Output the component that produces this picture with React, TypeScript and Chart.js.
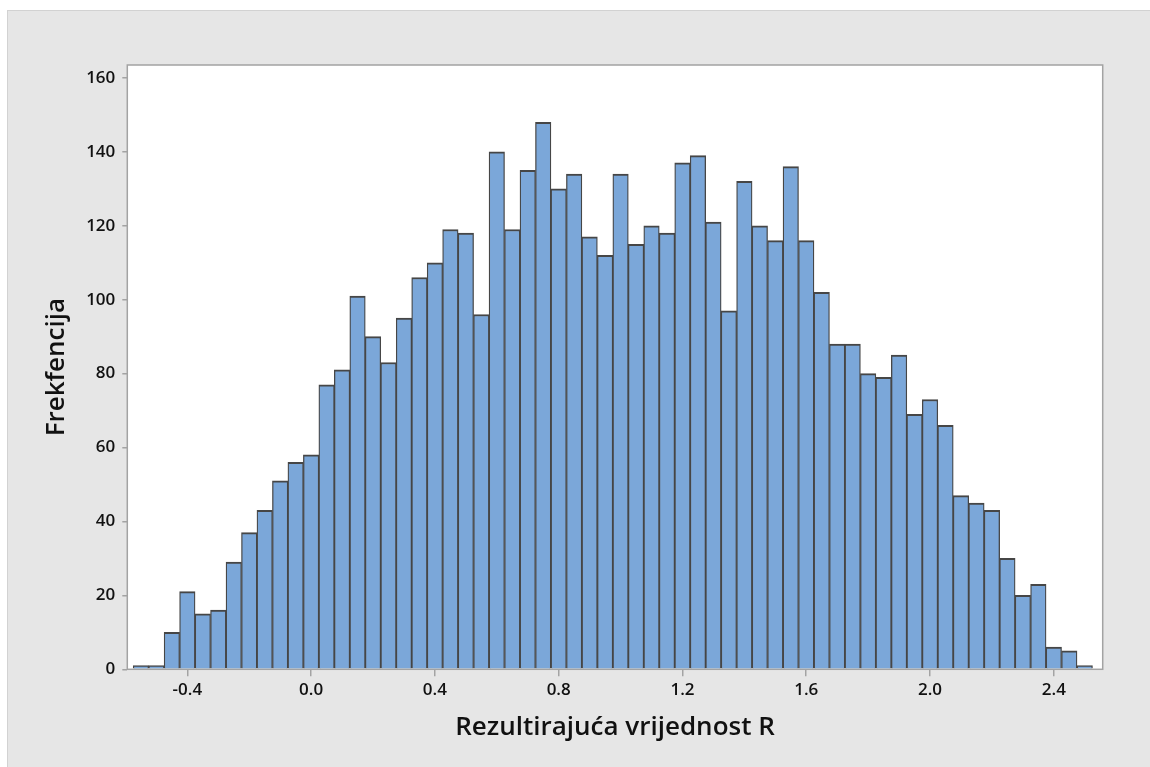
import React, { useEffect, useRef } from "react";
import { Chart, registerables } from "chart.js";

Chart.register(...registerables);

const BIN_CENTERS = [
  -0.55, -0.5, -0.45, -0.4, -0.35, -0.3, -0.25, -0.2, -0.15, -0.1,
  -0.05, 0.0, 0.05, 0.1, 0.15, 0.2, 0.25, 0.3, 0.35, 0.4,
  0.45, 0.5, 0.55, 0.6, 0.65, 0.7, 0.75, 0.8, 0.85, 0.9,
  0.95, 1.0, 1.05, 1.1, 1.15, 1.2, 1.25, 1.3, 1.35, 1.4,
  1.45, 1.5, 1.55, 1.6, 1.65, 1.7, 1.75, 1.8, 1.85, 1.9,
  1.95, 2.0, 2.05, 2.1, 2.15, 2.2, 2.25, 2.3, 2.35, 2.4,
  2.45, 2.5,
];

const FREQUENCIES = [
  1, 1, 10, 21, 15, 16, 29, 37, 43, 51,
  56, 58, 77, 81, 101, 90, 83, 95, 106, 110,
  119, 118, 96, 140, 119, 135, 148, 130, 134, 117,
  112, 134, 115, 120, 118, 137, 139, 121, 97, 132,
  120, 116, 136, 116, 102, 88, 88, 80, 79, 85,
  69, 73, 66, 47, 45, 43, 30, 20, 23, 6,
  5, 1,
];

const X_TICKS = [-0.4, 0.0, 0.4, 0.8, 1.2, 1.6, 2.0, 2.4];
const Y_TICKS = [0, 20, 40, 60, 80, 100, 120, 140, 160];

const X_TITLE = "Rezultirajuća vrijednost R";
const Y_TITLE = "Frekfencija";

const FONT = "'Open Sans', 'Noto Sans', 'DejaVu Sans', sans-serif";

const backgroundPlugin = {
  id: "bgFrame",
  beforeDraw(chart: any) {
    const { ctx, width, height, chartArea } = chart;
    ctx.save();
    ctx.fillStyle = "#ffffff";
    ctx.fillRect(0, 0, width, height);
    ctx.fillStyle = "#e6e6e6";
    ctx.fillRect(7, 10, width - 7, height - 10);
    ctx.strokeStyle = "#d2d2d2";
    ctx.lineWidth = 1;
    ctx.strokeRect(7.5, 10.5, width, height);
    ctx.fillStyle = "#ffffff";
    ctx.fillRect(
      chartArea.left,
      chartArea.top,
      chartArea.right - chartArea.left,
      chartArea.bottom - chartArea.top
    );
    ctx.restore();
  },
  afterDatasetsDraw(chart: any) {
    const { ctx, chartArea } = chart;
    ctx.save();
    ctx.strokeStyle = "#a3a3a3";
    ctx.lineWidth = 1.5;
    ctx.strokeRect(
      chartArea.left,
      chartArea.top,
      chartArea.right - chartArea.left,
      chartArea.bottom - chartArea.top
    );
    ctx.restore();
  },
};

export default function App() {
  const canvasRef = useRef<HTMLCanvasElement | null>(null);

  useEffect(() => {
    if (!canvasRef.current) return;
    const chart = new Chart(canvasRef.current, {
      type: "bar",
      data: {
        datasets: [
          {
            data: BIN_CENTERS.map((x, i) => ({ x, y: FREQUENCIES[i] })),
            backgroundColor: "#7ba7d9",
            borderColor: "#464646",
            borderWidth: { top: 2, left: 1.3, right: 1.3, bottom: 0 },
            borderSkipped: false,
            barPercentage: 1,
            categoryPercentage: 1,
          } as any,
        ],
      },
      options: {
        animation: false,
        responsive: true,
        maintainAspectRatio: false,
        layout: { padding: { top: 65, right: 47.3, left: 0, bottom: 0 } },
        plugins: {
          legend: { display: false },
          tooltip: { enabled: false },
        },
        scales: {
          x: {
            type: "linear",
            min: -0.594,
            max: 2.558,
            offset: false,
            afterFit: (s: any) => {
              s.height = 97.7;
            },
            afterBuildTicks: (s: any) => {
              s.ticks = X_TICKS.map((v) => ({ value: v }));
            },
            grid: {
              display: true,
              offset: false,
              drawOnChartArea: false,
              drawTicks: true,
              tickLength: 7,
              color: "#a3a3a3",
              lineWidth: 1.5,
            },
            border: { display: false },
            ticks: {
              autoSkip: false,
              maxRotation: 0,
              padding: 4,
              color: "#111111",
              font: { family: FONT, size: 17, weight: "600" },
              callback: (v: any) => Number(v).toFixed(1),
            },
            title: {
              display: true,
              text: X_TITLE,
              color: "#111111",
              font: { family: FONT, size: 26, weight: "600" },
              padding: { top: 0, bottom: 23.4 },
            },
          },
          y: {
            type: "linear",
            min: 0,
            max: 163.5,
            afterFit: (s: any) => {
              s.width = 127.3;
            },
            afterBuildTicks: (s: any) => {
              s.ticks = Y_TICKS.map((v) => ({ value: v }));
            },
            grid: {
              display: true,
              offset: false,
              drawOnChartArea: false,
              drawTicks: true,
              tickLength: 5,
              color: "#a3a3a3",
              lineWidth: 1.5,
            },
            border: { display: false },
            ticks: {
              autoSkip: false,
              padding: 7,
              color: "#111111",
              font: { family: FONT, size: 17, weight: "600" },
              callback: (v: any) => String(v),
            },
            title: {
              display: true,
              text: Y_TITLE,
              color: "#111111",
              font: { family: FONT, size: 26, weight: "600" },
              padding: { top: 41.4, bottom: 0 },
            },
          },
        },
      },
      plugins: [backgroundPlugin],
    });
    return () => chart.destroy();
  }, []);

  return (
    <div
      style={{
        position: "fixed",
        left: 0,
        top: 0,
        width: 1150,
        height: 767,
        margin: 0,
        padding: 0,
      }}
    >
      <canvas ref={canvasRef} />
    </div>
  );
}
